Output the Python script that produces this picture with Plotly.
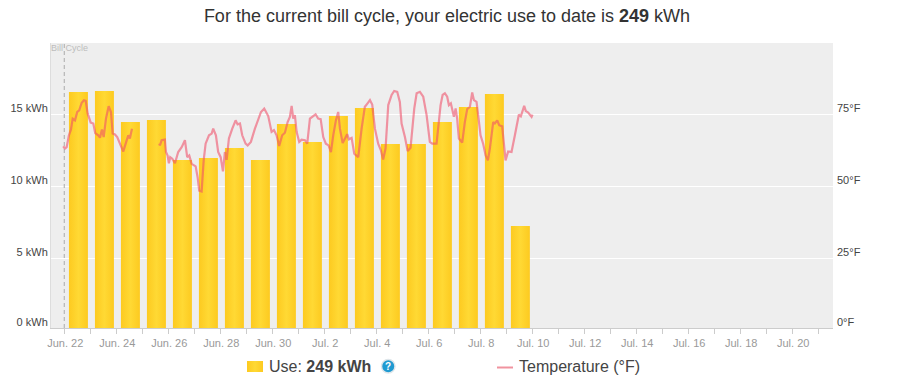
import plotly.graph_objects as go

# Use per day (kWh), first bar is Jun. 22
use_kwh = [16.55, 16.62, 14.47, 14.6, 11.83, 11.97, 12.66, 11.83, 14.33,
           13.08, 14.88, 15.44, 12.94, 12.94, 14.47, 15.5, 16.41, 7.24]

# Temperature: hours since start of Jun. 22 and deg F (None = missing readings)
temp_hours = [-0.9,0.6,2.2,4.3,6.2,7.8,9.9,12.0,13.8,16.1,18.2,19.8,21.6,23.1,24.4,26.8,28.6,31.4,33.0,34.8,36.4,38.5,41.0,43.1,44.7,46.8,48.9,51.4,54.5,56.7,59.1,60.6,62.5,
    75.0,
    87.7,88.3,89.9,92.9,93.9,95.4,96.6,97.8,99.7,102.2,105.2,108.4,111.4,113.5,115.4,117.6,121.3,123.1,124.6,126.8,128.7,130.5,133.6,136.1,137.5,140.0,142.1,144.4,146.5,148.3,149.9,152.0,155.1,158.2,160.0,162.2,164.3,167.4,169.3,172.3,176.0,179.1,181.6,184.6,188.3,191.4,193.6,196.0,198.4,201.2,203.7,206.2,208.3,209.9,211.4,212.9,214.5,216.9,219.1,222.2,224.3,226.8,229.8,232.0,234.4,236.7,239.1,241.5,244.0,246.2,248.3,250.8,252.9,254.5,257.0,259.7,261.2,262.8,265.3,267.7,271.4,274.5,277.5,280.0,282.2,284.3,286.8,289.8,292.3,294.4,296.6,299.1,302.2,304.6,307.4,309.8,311.4,314.5,317.0,319.7,323.1,325.3,328.3,331.4,334.5,337.5,339.7,343.7,345.9,347.4,349.3,351.4,353.5,355.1,356.9,359.7,361.3,362.7,364.3,367.4,369.8,372.0,374.5,376.6,378.2,380.6,382.1,384.3,386.7,389.0,391.1,392.9,396.0,397.5,399.7,401.5,404.3,407.4,409.8,412.9,416.0,418.1,419.7,421.5,424.6,426.1,428.3,431.4,432.3]
temp_f = [63.9,63.1,63.6,67.7,69.7,73.5,72.9,75.8,76.4,79.0,79.9,79.7,75.3,73.5,72.1,71.8,68.5,67.7,66.9,69.7,67.1,73.5,77.8,75.8,68.3,68.0,67.1,64.8,62.1,64.8,67.7,66.6,70.0,
    None,
    64.8,64.2,66.0,66.2,61.9,60.7,58.0,60.1,59.6,58.0,61.9,63.6,66.0,60.1,60.7,57.8,56.9,53.2,48.5,48.2,59.0,64.8,67.7,68.3,70.0,67.7,61.9,60.1,55.2,61.9,59.2,66.6,70.0,72.9,71.5,71.8,67.7,64.8,64.2,65.4,70.0,72.9,75.8,77.0,74.4,68.9,69.5,67.7,64.0,67.7,68.6,72.3,74.1,77.9,73.5,74.7,68.9,65.4,66.2,66.0,64.8,73.5,74.4,75.0,73.5,73.3,67.1,64.8,64.2,61.9,67.7,72.9,75.8,70.0,65.0,67.1,68.1,66.3,66.8,61.3,60.1,70.0,77.6,78.8,79.9,78.4,70.0,64.8,62.5,59.3,63.1,78.2,81.7,83.1,82.8,79.3,71.8,67.1,62.2,63.4,77.0,82.3,82.8,81.1,74.7,65.4,64.8,64.8,73.5,78.2,81.7,82.3,81.1,78.2,78.8,74.1,77.0,73.5,66.6,65.2,72.3,76.8,77.6,82.6,79.9,79.3,74.7,67.7,64.8,60.7,59.0,63.1,72.3,71.8,72.9,71.2,70.8,59.0,62.1,61.9,67.7,72.3,74.9,74.3,77.9,76.1,75.6,74.1,74.9]

x_labels = ["Jun. 22", "", "Jun. 24", "", "Jun. 26", "", "Jun. 28", "", "Jun. 30", "",
            "Jul. 2", "", "Jul. 4", "", "Jul. 6", "", "Jul. 8", "", "Jul. 10", "",
            "Jul. 12", "", "Jul. 14", "", "Jul. 16", "", "Jul. 18", "", "Jul. 20", ""]
left_ticks = ["0 kWh", "5 kWh", "10 kWh", "15 kWh"]
right_ticks = ["0°F", "25°F", "50°F", "75°F"]
title_text = "For the current bill cycle, your electric use to date is <b>249</b> kWh"
legend_use = "Use: <b>249 kWh</b>"
legend_temp = "Temperature (°F)"

FONT = "Liberation Sans, Arial, sans-serif"
W, H = 908, 388
L, R, T, B = 51, 833, 43, 328

def px(x):
    return (x - L) / (R - L)

def py(y):
    return (B - y) / (B - T)

days = list(range(len(x_labels)))
bar_x = [d + 0.5 for d in range(len(use_kwh))]
temp_x = [h / 24 for h in temp_hours]

fig = go.Figure()
fig.add_bar(x=bar_x, y=use_kwh, width=0.73, offset=-0.32, marker=dict(color="#ffd428", line_width=0),
            name="Use", showlegend=False, hoverinfo="skip")
fig.add_scatter(x=temp_x, y=temp_f, yaxis="y2", mode="lines", connectgaps=False,
                line=dict(color="rgba(240,78,104,0.58)", width=2.2, shape="linear"),
                name="Temperature", showlegend=False, hoverinfo="skip")

shapes = [
    dict(type="line", xref="x", yref="paper", x0=0, x1=0, y0=0, y1=1,
         line=dict(color="#aaaaaa", width=1, dash="4px,3px"), layer="above"),
    dict(type="rect", xref="paper", yref="paper", x0=px(247), x1=px(263), y0=py(372), y1=py(361),
         fillcolor="#ffd428", line_width=0),
    dict(type="line", xref="paper", yref="paper", x0=px(497), x1=px(513), y0=py(367.5), y1=py(367.5),
         line=dict(color="#f0939f", width=2)),
    dict(type="circle", xref="paper", yref="paper", x0=px(381.5), x1=px(395), y0=py(373), y1=py(359.5),
         fillcolor="#1f9ad1", line=dict(color="#dfe6ea", width=1.5)),
]
annotations = [
    dict(text="Bill Cycle", xref="paper", yref="paper", x=px(49), y=py(48.5), xanchor="left", yanchor="middle",
         showarrow=False, font=dict(family=FONT, size=9, color="#bdbdbd")),
    dict(text=legend_use, xref="paper", yref="paper", x=px(266.5), y=py(366), xanchor="left", yanchor="middle",
         showarrow=False, font=dict(family=FONT, size=16, color="#444444")),
    dict(text="?", xref="paper", yref="paper", x=px(388.3), y=py(366), xanchor="center", yanchor="middle",
         showarrow=False, font=dict(family=FONT, size=10, color="#ffffff", weight="bold")),
    dict(text=legend_temp, xref="paper", yref="paper", x=px(516.5), y=py(366), xanchor="left", yanchor="middle",
         showarrow=False, font=dict(family=FONT, size=16, color="#444444")),
]

fig.update_layout(
    width=W, height=H, margin=dict(l=L, r=W - R, t=T, b=H - B, pad=0, autoexpand=False),
    paper_bgcolor="#ffffff", plot_bgcolor="#eeeeee",
    font=dict(family=FONT, size=11, color="#444444"),
    title=dict(text=title_text, x=447 / W, xanchor="center", y=1 - 16 / H, yanchor="middle",
               font=dict(family=FONT, size=18, color="#333333")),
    barmode="overlay", showlegend=False, shapes=shapes, annotations=annotations,
    xaxis=dict(range=[-0.51, 29.57], tickmode="array", tickvals=days, ticktext=x_labels,
               ticks="outside", ticklen=5, tickcolor="#cccccc", tickwidth=1, ticklabelshift=1,
               showline=True, linecolor="#cccccc", linewidth=1, showgrid=False, zeroline=False,
               tickangle=0, automargin=False, tickfont=dict(family=FONT, size=11, color="#999999")),
    yaxis=dict(range=[0.16, 19.95], tickmode="array", tickvals=[0.17, 5, 10, 15], ticktext=left_ticks,
               showgrid=True, gridcolor="#ffffff", gridwidth=1, zeroline=False, showline=True,
               linecolor="#dddddd", linewidth=1, ticks="", ticklabelshift=-6, automargin=False,
               tickfont=dict(family=FONT, size=11, color="#444444")),
    yaxis2=dict(range=[0.8, 99.75], overlaying="y", side="right", tickmode="array",
                tickvals=[0.85, 25, 50, 75], ticktext=right_ticks, showgrid=False, zeroline=False,
                showline=False, ticks="", ticklabelshift=-6, ticklabelstandoff=3, automargin=False,
                tickfont=dict(family=FONT, size=11, color="#444444")),
)

# Horizontal sheen on the bars and their legend swatch (SVG gradient, styling only)
gradient_js = """
document.body.style.margin = '0';
function applySheen() {
  var svg = document.querySelector('svg.main-svg');
  if (!svg) return;
  var ns = 'http://www.w3.org/2000/svg';
  if (!document.getElementById('barSheen')) {
    var defs = document.createElementNS(ns, 'defs');
    var g = document.createElementNS(ns, 'linearGradient');
    g.setAttribute('id', 'barSheen');
    [['0%', '#fdca20'], ['50%', '#ffd934'], ['100%', '#fdca20']].forEach(function (s) {
      var stop = document.createElementNS(ns, 'stop');
      stop.setAttribute('offset', s[0]);
      stop.setAttribute('stop-color', s[1]);
      g.appendChild(stop);
    });
    defs.appendChild(g);
    svg.insertBefore(defs, svg.firstChild);
  }
  document.querySelectorAll('svg.main-svg path').forEach(function (p) {
    if (p.style.fill === 'rgb(255, 212, 40)') p.style.fill = 'url(#barSheen)';
  });
}
applySheen();
setTimeout(applySheen, 50);
"""
fig.write_html("out.html", post_script=gradient_js, config={"displayModeBar": False})
